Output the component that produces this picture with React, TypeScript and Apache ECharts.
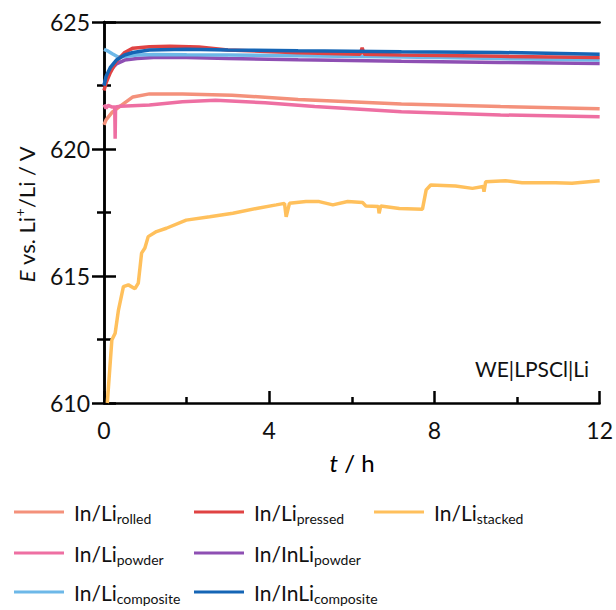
import React, { useEffect, useRef } from "react";
import * as echarts from "echarts";

// ---- data (t in h, E in V as labelled) ----
const rolledT = [0, 0.05, 0.2, 0.4, 0.7, 1.1, 1.9, 3.1, 4.7, 7.2, 9.6, 12];
const rolledV = [620.95, 621.15, 621.45, 621.7, 622.05, 622.17, 622.17, 622.12, 621.95, 621.77, 621.67, 621.58];

const powderT = [0, 0.05, 0.1, 0.2, 0.26, 0.27, 0.28, 0.4, 1.1, 1.9, 2.7, 3.9, 5.1, 7.2, 9.6, 12];
const powderV = [621.75, 621.6, 621.72, 621.65, 621.65, 620.4, 621.65, 621.68, 621.73, 621.86, 621.92, 621.82, 621.67, 621.47, 621.34, 621.27];

const stackedT = [0.08, 0.19, 0.27, 0.35, 0.47, 0.59, 0.75, 0.83, 0.91, 0.99, 1.07, 1.27, 1.51, 1.99, 2.56, 3.12, 3.69, 4.17, 4.37, 4.41, 4.49, 4.89, 5.21, 5.54, 5.9, 6.26, 6.34, 6.64, 6.66, 6.7, 7.15, 7.71, 7.8, 7.91, 8.51, 8.92, 9.18, 9.2, 9.24, 9.72, 10.12, 10.93, 11.33, 12];
const stackedV = [610.0, 612.48, 612.75, 613.66, 614.58, 614.65, 614.5, 614.72, 615.9, 616.1, 616.55, 616.75, 616.88, 617.2, 617.33, 617.47, 617.66, 617.8, 617.86, 617.33, 617.86, 617.93, 617.93, 617.8, 617.93, 617.89, 617.76, 617.74, 617.47, 617.76, 617.66, 617.63, 618.39, 618.58, 618.54, 618.45, 618.52, 618.32, 618.71, 618.75, 618.67, 618.67, 618.65, 618.75];

const inliPowderT = [0, 0.05, 0.15, 0.3, 0.5, 0.8, 1.2, 2, 3, 4.7, 7.2, 9.6, 12];
const inliPowderV = [622.5, 622.8, 623.1, 623.35, 623.5, 623.56, 623.6, 623.6, 623.56, 623.51, 623.45, 623.41, 623.37];

const compositeT = [0, 0.1, 0.2, 0.34, 0.5, 0.8, 1.2, 2, 3, 4.7, 7.2, 9.6, 12];
const compositeV = [623.92, 623.85, 623.75, 623.62, 623.64, 623.7, 623.72, 623.71, 623.7, 623.67, 623.62, 623.56, 623.5];

const pressedT = [0, 0.05, 0.15, 0.3, 0.5, 0.7, 1.1, 1.6, 2.3, 3.0, 4.7, 6.2, 6.25, 6.3, 7.2, 9.6, 12];
const pressedV = [622.3, 622.6, 623.0, 623.45, 623.8, 623.97, 624.03, 624.05, 624.02, 623.9, 623.79, 623.73, 623.98, 623.73, 623.7, 623.65, 623.6];

const inliCompositeT = [0, 0.05, 0.15, 0.3, 0.5, 0.7, 1.1, 2, 3, 4.7, 7.2, 9.6, 12];
const inliCompositeV = [622.5, 622.85, 623.2, 623.5, 623.7, 623.8, 623.9, 623.93, 623.9, 623.87, 623.83, 623.8, 623.73];

const xTicks = [0, 12, 4];
const yTicks = [610, 625, 5];

const FONT = "Lato";
const TXT = "#111111";

type S = { key: string; base: string; sub: string; color: string; t: number[]; v: number[]; lx: number; ly: number; z: number };
const seriesDefs: S[] = [
  { key: "rolled", base: "In/Li", sub: "rolled", color: "#F4917B", t: rolledT, v: rolledV, lx: 14, ly: 513, z: 1 },
  { key: "pressed", base: "In/Li", sub: "pressed", color: "#E04343", t: pressedT, v: pressedV, lx: 194, ly: 513, z: 6 },
  { key: "stacked", base: "In/Li", sub: "stacked", color: "#FFC05C", t: stackedT, v: stackedV, lx: 374, ly: 513, z: 3 },
  { key: "powder", base: "In/Li", sub: "powder", color: "#EE6FA2", t: powderT, v: powderV, lx: 14, ly: 554, z: 2 },
  { key: "inlipowder", base: "In/InLi", sub: "powder", color: "#8E4FB3", t: inliPowderT, v: inliPowderV, lx: 194, ly: 554, z: 4 },
  { key: "composite", base: "In/Li", sub: "composite", color: "#6DB8E8", t: compositeT, v: compositeV, lx: 14, ly: 593, z: 5 },
  { key: "inlicomposite", base: "In/InLi", sub: "composite", color: "#1565B5", t: inliCompositeT, v: inliCompositeV, lx: 194, ly: 593, z: 7 },
];

export default function App() {
  const ref = useRef<HTMLDivElement>(null);
  useEffect(() => {
    document.body.style.margin = "0";
    if (!ref.current) return;
    const chart = echarts.init(ref.current, null, { renderer: "svg" });
    const axisLine = { show: true, lineStyle: { color: "#000", width: 2.5 } };
    const tick = { show: true, inside: true, length: 12, lineStyle: { color: "#000", width: 2.5 } };
    const minor = { show: true, splitNumber: 2, length: 7, lineStyle: { color: "#000", width: 2.5 } };
    const label = { fontSize: 23, color: TXT, fontFamily: FONT };

    const legends = seriesDefs.map((s) => ({
      data: [s.key],
      left: s.lx,
      top: s.ly - 14,
      padding: 0,
      icon: "rect",
      itemWidth: 50,
      itemHeight: 3,
      formatter: () => `{m|${s.base}}{s|${s.sub}}`,
      textStyle: {
        padding: [0, 0, 0, 5],
        rich: {
          m: { fontSize: 21, fontFamily: FONT, color: TXT, lineHeight: 26, verticalAlign: "middle" },
          s: { fontSize: 14, fontFamily: FONT, color: TXT, lineHeight: 16, padding: [12, 0, 0, 0], verticalAlign: "middle" },
        },
      },
    }));

    chart.setOption({
      animation: false,
      backgroundColor: "#fff",
      grid: { left: 104, top: 22, width: 497, height: 381, containLabel: false },
      xAxis: [
        {
          type: "value", min: xTicks[0], max: xTicks[1], interval: xTicks[2],
          axisLine, axisTick: tick, minorTick: { ...minor, length: 6 },
          axisLabel: { ...label, margin: 15 }, splitLine: { show: false },
        },
        {
          type: "value", position: "top", min: xTicks[0], max: xTicks[1], interval: xTicks[2],
          axisLine, axisTick: { show: false }, axisLabel: { show: false }, splitLine: { show: false },
        },
      ],
      yAxis: [
        {
          type: "value", min: yTicks[0], max: yTicks[1], interval: yTicks[2],
          axisLine, axisTick: tick, minorTick: minor,
          axisLabel: { ...label, margin: 14 }, splitLine: { show: false },
        },
        {
          type: "value", position: "right", min: yTicks[0], max: yTicks[1], interval: yTicks[2],
          axisLine, axisTick: tick, minorTick: minor,
          axisLabel: { show: false }, splitLine: { show: false },
        },
      ],
      legend: legends,
      series: seriesDefs.map((s) => ({
        name: s.key,
        type: "line",
        xAxisIndex: 0,
        yAxisIndex: 0,
        showSymbol: false,
        symbol: "none",
        clip: true,
        z: s.z,
        itemStyle: { color: s.color },
        lineStyle: { color: s.color, width: 3.5 },
        data: s.t.map((t, i) => [t, s.v[i]]),
      })),
      graphic: [
        {
          type: "text",
          x: 26,
          y: 214,
          rotation: Math.PI / 2,
          style: {
            text: "{i|E}{n| vs. Li}{p|+}{n|/Li / V}",
            align: "center",
            verticalAlign: "middle",
            rich: {
              i: { fontSize: 22, fontFamily: FONT, fontStyle: "italic", fill: TXT, color: TXT },
              n: { fontSize: 22, fontFamily: FONT, fill: TXT, color: TXT },
              p: { fontSize: 14, fontFamily: FONT, fill: TXT, color: TXT, padding: [0, 0, 14, 0] },
            },
          },
        },
        {
          type: "text",
          x: 352,
          y: 462,
          style: {
            text: "{i|t}{n| / h}",
            align: "center",
            verticalAlign: "middle",
            rich: {
              i: { fontSize: 24, fontFamily: FONT, fontStyle: "italic", color: TXT },
              n: { fontSize: 24, fontFamily: FONT, color: TXT },
            },
          },
        },
        {
          type: "text",
          x: 589,
          y: 368,
          style: {
            text: "WE|LPSCl|Li",
            align: "right",
            verticalAlign: "middle",
            fontSize: 21,
            fontFamily: FONT,
            fill: TXT,
          },
        },
      ],
    });
    return () => chart.dispose();
  }, []);
  return <div ref={ref} style={{ width: 616, height: 610 }} />;
}
